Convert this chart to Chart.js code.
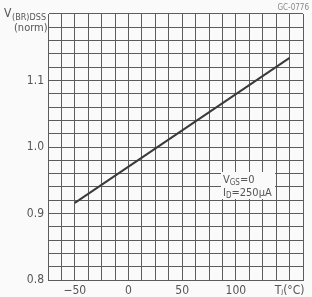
<!DOCTYPE html>
<html>
<head>
<meta charset="utf-8">
<script src="https://cdn.jsdelivr.net/npm/chart.js@4/dist/chart.umd.min.js"></script>
<style>
  html, body { margin: 0; padding: 0; background: #fafafa; }
  #wrap { width: 312px; height: 297px; position: relative; }
</style>
</head>
<body>
<div id="wrap"><canvas id="chart"></canvas></div>
<script>
// values
const tempPoints = [-50, 150];          // Tj in degC
const vbrNorm = [0.916, 1.134];         // V(BR)DSS normalised
const xLabels = { '-50': '\u221250', '0': '0', '50': '50', '100': '100', '150': 'T\u2C7C(\u00B0C)' };
const yLabels = [0.8, 0.9, 1.0, 1.1];

const FONT = '"Liberation Sans Narrow", "DejaVu Sans Condensed", sans-serif';
const INK = '#555';
const GRID = '#5c5c5c';

// draws the axis title, the test condition box and the figure code
const textPlugin = {
  id: 'texts',
  afterDraw(chart) {
    const ctx = chart.ctx;
    const area = chart.chartArea;
    ctx.save();
    ctx.fillStyle = INK;
    ctx.textBaseline = 'alphabetic';

    // y axis title, right aligned to the plot edge
    ctx.textAlign = 'left';
    ctx.font = '12px ' + FONT;
    ctx.fillText('V', 4, 17);
    ctx.font = '9px ' + FONT;
    ctx.fillText('(BR)DSS', 12, 20);
    ctx.font = '11px ' + FONT;
    ctx.fillText('(norm)', 14, 31);

    // figure code
    ctx.font = '8px ' + FONT;
    ctx.fillStyle = '#888';
    ctx.textAlign = 'right';
    ctx.fillText('GC-0776', 309, 10);

    // conditions box
    const bx = area.left + 175, by = area.top + 158;
    ctx.fillStyle = '#fafafa';
    ctx.fillRect(bx - 2, by, 54, 27);
    ctx.fillStyle = INK;
    ctx.textAlign = 'left';
    ctx.font = '11px ' + FONT;
    ctx.fillText('V', bx, by + 11);
    let w = ctx.measureText('V').width;
    ctx.font = '8px ' + FONT;
    ctx.fillText('GS', bx + w, by + 13);
    let w2 = ctx.measureText('GS').width;
    ctx.font = '11px ' + FONT;
    ctx.fillText('=0', bx + w + w2, by + 11);

    ctx.fillText('I', bx, by + 24);
    w = ctx.measureText('I').width;
    ctx.font = '8px ' + FONT;
    ctx.fillText('D', bx + w, by + 26);
    w2 = ctx.measureText('D').width;
    ctx.font = '11px ' + FONT;
    ctx.fillText('=250\u00B5A', bx + w + w2, by + 24);
    ctx.restore();
  }
};

new Chart(document.getElementById('chart'), {
  type: 'scatter',
  data: {
    datasets: [{
      data: tempPoints.map((t, i) => ({ x: t, y: vbrNorm[i] })),
      showLine: true,
      borderColor: '#3a3a3a',
      borderWidth: 2,
      pointRadius: 0
    }]
  },
  options: {
    responsive: true,
    maintainAspectRatio: false,
    animation: false,
    layout: { padding: { top: 14, right: 9, left: 0, bottom: 0 } },
    plugins: { legend: { display: false }, tooltip: { enabled: false } },
    scales: {
      x: {
        type: 'linear',
        min: -75,
        max: 162.5,
        afterBuildTicks(scale) {
          const t = [];
          for (let v = -75; v <= 162.5; v += 12.5) t.push({ value: v });
          scale.ticks = t;
        },
        afterFit(scale) { scale.height = 17; },
        grid: { color: GRID, lineWidth: 1, drawTicks: false },
        border: { color: GRID, width: 1 },
        ticks: {
          autoSkip: false,
          maxRotation: 0,
          padding: 4,
          color: INK,
          font: { family: FONT, size: 12 },
          callback: v => xLabels[String(v)] || ''
        }
      },
      y: {
        min: 0.8,
        max: 1.2,
        afterBuildTicks(scale) {
          const t = [];
          for (let i = 0; i <= 20; i++) t.push({ value: 0.8 + i * 0.02 });
          scale.ticks = t;
        },
        afterFit(scale) { scale.width = 48; },
        grid: { color: GRID, lineWidth: 1, drawTicks: false },
        border: { color: GRID, width: 1 },
        ticks: {
          autoSkip: false,
          padding: 4,
          color: INK,
          font: { family: FONT, size: 12 },
          callback: v => {
            const hit = yLabels.find(l => Math.abs(l - v) < 1e-6);
            return hit === undefined ? '' : hit.toFixed(1);
          }
        }
      }
    }
  },
  plugins: [textPlugin]
});
</script>
</body>
</html>
